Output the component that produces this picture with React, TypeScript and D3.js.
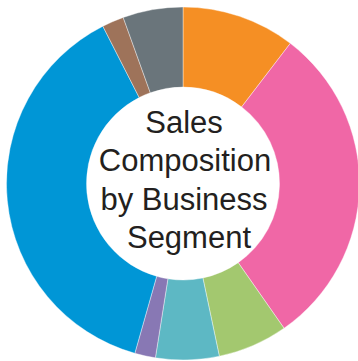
import React from "react";
import * as d3 from "d3";

const segments = ["Segment A", "Segment B", "Segment C", "Segment D", "Segment E", "Segment F", "Segment G", "Segment H"];
const shares = [10.4, 29.9, 6.4, 5.8, 1.9, 38.1, 2.0, 5.5];
const colors = ["#F58F24", "#F067A6", "#A3C86F", "#5DB8C4", "#8878B4", "#0096D6", "#9E735A", "#6A757B"];
const titleLines = ["Sales", "Composition", "by Business", "Segment"];

const W = 358;
const H = 361;

export default function App() {
  const cx = 183;
  const cy = 183.5;
  const outerR = 176.5;
  const innerR = 96.5;
  const pie = d3.pie<number>().sort(null).value((d) => d);
  const arcs = pie(shares);
  const arcGen = d3.arc<d3.PieArcDatum<number>>().innerRadius(innerR).outerRadius(outerR);
  const lineY = d3.scalePoint<number>().domain(titleLines.map((_, i) => i)).range([133, 248]);
  const lineDx = [0, 1, 0, 5];
  return (
    <svg width={W} height={H} style={{ position: "absolute", left: 0, top: 0 }}>
      <rect width={W} height={H} fill="#fff" />
      <g transform={`translate(${cx},${cy})`}>
        {arcs.map((a, i) => (
          <path key={segments[i]} d={arcGen(a) || ""} fill={colors[i]} stroke="#fff" strokeWidth={0.4} />
        ))}
      </g>
      {titleLines.map((t, i) => (
        <text
          key={t}
          x={cx + 1 + lineDx[i]}
          y={lineY(i)}
          textAnchor="middle"
          fontFamily="'Liberation Sans', Arial, Helvetica, sans-serif"
          fontSize={31}
          fill="#231F20"
        >
          {t}
        </text>
      ))}
    </svg>
  );
}
